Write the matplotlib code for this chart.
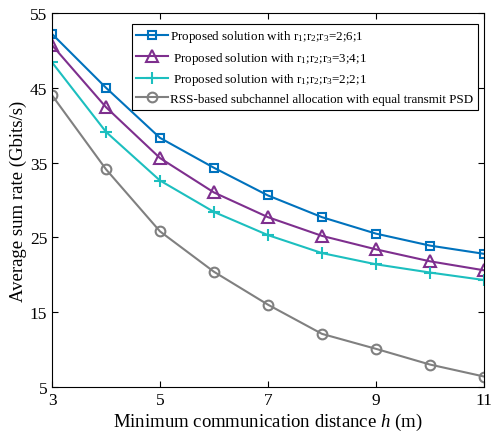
import matplotlib
matplotlib.use('Agg')
import matplotlib.pyplot as plt
import numpy as np

plt.rcParams['font.family'] = ['Liberation Serif', 'DejaVu Serif']
plt.rcParams['mathtext.fontset'] = 'custom'
plt.rcParams['mathtext.rm'] = 'Liberation Serif'
plt.rcParams['mathtext.it'] = 'Liberation Serif:italic'

h = [3, 4, 5, 6, 7, 8, 9, 10, 11]
r261 = [52.2, 45.0, 38.3, 34.3, 30.6, 27.7, 25.5, 23.9, 22.8]
r341 = [50.7, 42.4, 35.6, 31.0, 27.7, 25.2, 23.4, 21.8, 20.6]
r221 = [48.4, 39.1, 32.6, 28.4, 25.3, 22.9, 21.4, 20.3, 19.3]
rss = [44.0, 34.1, 25.8, 20.4, 16.0, 12.1, 10.1, 8.0, 6.4]
labels = ['Proposed solution with r$_1$;r$_2$;r$_3$=2;6;1',
          ' Proposed solution with r$_1$;r$_2$;r$_3$=3;4;1',
          ' Proposed solution with r$_1$;r$_2$;r$_3$=2;2;1',
          'RSS-based subchannel allocation with equal transmit PSD']

fig = plt.figure(figsize=(4.92, 4.39), dpi=100)
ax = fig.add_axes([0.1057, 0.1162, 0.878, 0.852])

ax.plot(h, r261, '-s', color='#0072BD', mfc='none', ms=5.5, mew=1.5, lw=1.5, label=labels[0])
ax.plot(h, r341, '-^', color='#7E2F8E', mfc='none', ms=8, mew=1.5, lw=1.5, label=labels[1])
ax.plot(h, r221, '-+', color='#1CBFBF', ms=9, mew=1.5, lw=1.5, label=labels[2])
ax.plot(h, rss, '-o', color='#808080', mfc='none', ms=7, mew=1.5, lw=1.5, label=labels[3])

ax.set_xlim(3, 11)
ax.set_ylim(5, 55)
ax.set_xticks([3, 5, 7, 9, 11])
ax.set_yticks([5, 15, 25, 35, 45, 55])
ax.tick_params(direction='in', top=True, right=True, labelsize=12.5, length=4)
ax.set_xlabel('Minimum communication distance $\\mathit{h}$ (m)', fontsize=13.5, labelpad=2)
ax.set_ylabel('Average sum rate (Gbits/s)', fontsize=13.5, labelpad=2)

leg = ax.legend(loc='upper right', bbox_to_anchor=(0.986, 0.971), borderaxespad=0,
                fontsize=9.4, handlelength=2.4, handletextpad=0.2,
                borderpad=0.35, labelspacing=0.42, fancybox=False, edgecolor='k',
                framealpha=1)
leg.get_frame().set_linewidth(0.8)

plt.savefig('out.png', dpi=100)
